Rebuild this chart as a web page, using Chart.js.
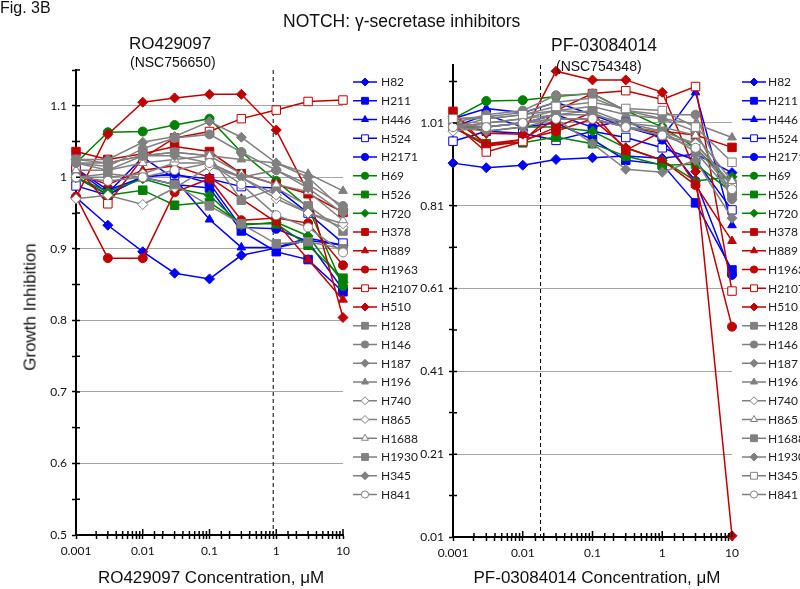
<!DOCTYPE html>
<html>
<head>
<meta charset="utf-8">
<script src="https://cdn.jsdelivr.net/npm/chart.js@4.4.0/dist/chart.umd.min.js"></script>
<style>
  body { margin: 0; background: #fff; width: 800px; height: 589px; position: relative; overflow: hidden;
         font-family: "Liberation Sans", Arial, sans-serif; color: #111; }
  canvas { position: absolute; top: 0; }
  .t { position: absolute; white-space: nowrap; line-height: 1; }
</style>
</head>
<body>
<canvas id="roChart" width="440" height="589" style="left:0"></canvas>
<canvas id="pfChart" width="400" height="589" style="left:400px"></canvas>

<div class="t" style="left:0;top:0;font-size:16px">Fig. 3B</div>
<div class="t" style="left:283px;top:13px;font-size:17.5px">NOTCH: γ-secretase inhibitors</div>
<div class="t" style="left:129px;top:35px;font-size:17px">RO429097</div>
<div class="t" style="left:130px;top:55px;font-size:14px">(NSC756650)</div>
<div class="t" style="left:551px;top:37px;font-size:17.5px">PF-03084014</div>
<div class="t" style="left:556px;top:59px;font-size:14px">(NSC754348)</div>
<div class="t" style="left:30px;top:307px;font-size:17px;transform:translate(-50%,-50%) rotate(-90deg)">Growth Inhibition</div>
<div class="t" style="left:211px;top:569px;font-size:17px;transform:translateX(-50%)">RO429097 Concentration, μM</div>
<div class="t" style="left:597px;top:569px;font-size:17px;transform:translateX(-50%)">PF-03084014 Concentration, μM</div>

<script>
// concentrations (uM) and cell lines
const conc = [0.001, 0.003, 0.01, 0.03, 0.1, 0.3, 1, 3, 10];
const cellLines = ['H82', 'H211', 'H446', 'H524', 'H2171', 'H69', 'H526', 'H720', 'H378', 'H889', 'H1963',
  'H2107', 'H510', 'H128', 'H146', 'H187', 'H196', 'H740', 'H865', 'H1688', 'H1930', 'H345', 'H841'];

// RO429097 growth inhibition, one row per cell line (same order)
const roValues = [
  [0.972, 0.933, 0.896, 0.866, 0.858, 0.891, 0.901, 0.912, 0.905], // H82
  [1.012, 0.982, 1.000, 0.990, 0.985, 0.925, 0.896, 0.885, 0.840], // H211
  [1.010, 0.978, 1.028, 0.998, 0.941, 0.902, 0.902, 0.915, 0.905], // H446
  [0.988, 0.975, 1.002, 1.003, 0.998, 0.987, 0.985, 0.950, 0.908], // H524
  [1.000, 0.976, 1.000, 1.005, 0.992, 0.930, 0.928, 0.910, 0.843], // H2171
  [1.020, 1.063, 1.064, 1.073, 1.082, 1.035, 0.995, 0.958, 0.848], // H69
  [1.000, 0.975, 0.982, 0.961, 0.965, 0.935, 0.935, 0.905, 0.859], // H526
  [1.000, 0.980, 0.998, 0.985, 0.975, 0.933, 0.937, 0.918, 0.853], // H720
  [1.036, 1.025, 1.033, 1.043, 1.036, 1.005, 0.990, 0.977, 0.951], // H378
  [1.005, 0.990, 1.010, 1.016, 1.000, 0.970, 0.937, 0.885, 0.829], // H889
  [0.973, 0.887, 0.887, 0.979, 0.998, 0.940, 0.943, 0.936, 0.877], // H1963
  [1.015, 0.963, 1.027, 1.055, 1.064, 1.082, 1.094, 1.106, 1.108], // H2107
  [0.972, 1.060, 1.105, 1.111, 1.116, 1.116, 1.066, 0.979, 0.804], // H510
  [1.025, 1.020, 1.030, 1.035, 1.030, 0.968, 0.985, 0.960, 0.925], // H128
  [1.020, 1.015, 1.040, 1.055, 1.060, 1.035, 1.010, 0.990, 0.960], // H146
  [1.025, 1.025, 1.049, 1.057, 1.078, 1.056, 1.020, 1.000, 0.955], // H187
  [1.020, 1.020, 1.030, 1.035, 1.030, 1.025, 1.020, 1.005, 0.981], // H196
  [0.970, 0.975, 0.962, 0.985, 1.015, 1.000, 0.970, 0.950, 0.930], // H740
  [1.000, 1.000, 1.005, 1.020, 1.020, 1.000, 0.975, 0.950, 0.935], // H865
  [1.010, 1.010, 1.020, 1.025, 1.030, 1.005, 0.990, 0.980, 0.940], // H1688
  [1.000, 1.005, 1.000, 0.990, 0.960, 0.935, 0.907, 0.910, 0.900], // H1930
  [1.020, 1.010, 1.030, 1.030, 1.020, 1.000, 1.010, 0.985, 0.950], // H345
  [1.000, 0.995, 1.000, 1.010, 1.020, 0.990, 0.947, 0.930, 0.895]  // H841
];

// PF-03084014 growth inhibition
const pfValues = [
  [0.913, 0.902, 0.908, 0.922, 0.926, 0.930, 0.925, 0.935, 0.890], // H82
  [1.000, 1.030, 1.000, 1.010, 0.970, 0.920, 0.910, 0.817, 0.655], // H211
  [1.020, 1.045, 1.035, 1.060, 1.030, 1.000, 0.975, 1.084, 0.763], // H446
  [0.966, 0.990, 0.985, 0.968, 0.990, 0.975, 0.950, 0.920, 0.800], // H524
  [1.000, 1.000, 1.010, 1.030, 1.000, 1.017, 0.970, 0.870, 0.643], // H2171
  [1.020, 1.063, 1.065, 1.074, 1.081, 1.040, 1.000, 0.950, 0.860], // H69
  [1.000, 0.960, 0.962, 0.976, 0.960, 0.930, 0.908, 0.910, 0.843], // H526
  [1.010, 0.990, 1.000, 1.000, 0.990, 0.950, 0.920, 0.870, 0.880], // H720
  [1.038, 0.954, 0.965, 1.000, 1.036, 0.944, 0.990, 0.981, 0.951], // H378
  [1.020, 0.960, 0.970, 1.020, 1.020, 0.950, 0.920, 0.860, 0.725], // H889
  [1.000, 0.955, 0.970, 0.990, 1.020, 1.000, 0.985, 0.860, 0.518], // H1963
  [1.010, 0.940, 0.965, 1.040, 1.081, 1.088, 1.067, 1.098, 0.604], // H2107
  [1.025, 0.985, 0.983, 1.135, 1.114, 1.114, 1.084, 0.893, 0.013], // H510
  [1.000, 1.020, 1.030, 1.040, 1.035, 1.000, 0.980, 0.960, 0.863], // H128
  [1.010, 1.030, 1.040, 1.077, 1.080, 1.040, 1.030, 1.030, 0.826], // H146
  [1.020, 1.025, 1.035, 1.060, 1.070, 1.040, 1.020, 0.990, 0.826], // H187
  [1.000, 1.010, 1.020, 1.040, 1.050, 1.030, 1.020, 1.008, 0.975], // H196
  [0.990, 1.000, 1.010, 1.020, 1.020, 1.000, 0.990, 0.960, 0.860], // H740
  [1.000, 1.010, 1.020, 1.030, 1.030, 1.010, 1.000, 0.980, 0.870], // H865
  [1.010, 1.000, 1.010, 1.030, 1.040, 1.010, 0.990, 0.940, 0.840], // H1688
  [1.000, 0.990, 1.000, 1.020, 0.960, 0.898, 0.891, 0.920, 0.780], // H1930
  [1.020, 1.020, 1.030, 1.050, 1.060, 1.045, 1.040, 1.000, 0.915], // H345
  [1.000, 1.000, 1.010, 1.020, 1.020, 1.000, 0.980, 0.950, 0.850]  // H841
];

// y ticks (all tick marks) and the ones that get a label + gridline
const roYTicks = [0.5, 0.55, 0.6, 0.65, 0.7, 0.75, 0.8, 0.85, 0.9, 0.95, 1, 1.05, 1.1, 1.15];
const roYLabels = [0.5, 0.6, 0.7, 0.8, 0.9, 1, 1.1];
const pfYTicks = [0.01, 0.11, 0.21, 0.31, 0.41, 0.51, 0.61, 0.71, 0.81, 0.91, 1.01, 1.11];
const pfYLabels = [0.01, 0.21, 0.41, 0.61, 0.81, 1.01];

// dashed reference lines (uM)
const roRefConc = 0.9;
const pfRefConc = 0.018;

const blue = '#0000FF', green = '#008000', red = '#C00000', gray = '#808080';
const lineColors = [blue, blue, blue, blue, blue, green, green, green, red, red, red, red, red,
  gray, gray, gray, gray, gray, gray, gray, gray, gray, gray];

const roMarkers = ['rectRot', 'rect', 'triangle', 'rect', 'circle', 'circle', 'rect', 'rectRot',
  'rect', 'triangle', 'circle', 'rect', 'rectRot',
  'rect', 'circle', 'rectRot', 'triangle', 'rectRot', 'rectRot', 'triangle', 'rect', 'rectRot', 'circle'];
const pfMarkers = ['rectRot', 'rect', 'triangle', 'rect', 'circle', 'circle', 'rect', 'rectRot',
  'rect', 'triangle', 'circle', 'rect', 'rectRot',
  'rect', 'circle', 'rectRot', 'triangle', 'rectRot', 'triangle', 'rect', 'rectRot', 'rect', 'circle'];
const roOpen = ['H524', 'H2107', 'H740', 'H865', 'H1688', 'H841'];
const pfOpen = ['H524', 'H2107', 'H740', 'H865', 'H345', 'H841'];

const markerSize = { circle: 4.5, rect: 6, triangle: 5, rectRot: 5 };
const tickFont = { family: 'Lato', size: 12 };

function makeDatasets(values, markers, open) {
  return cellLines.map((name, i) => ({
    label: name,
    data: conc.map((c, j) => ({ x: c, y: values[i][j] })),
    borderColor: lineColors[i],
    backgroundColor: lineColors[i],
    borderWidth: 1.5,
    pointStyle: markers[i],
    pointRadius: markerSize[markers[i]],
    pointBackgroundColor: open.includes(name) ? '#fff' : lineColors[i],
    pointBorderColor: lineColors[i],
    pointBorderWidth: 1,
    tension: 0,
    clip: false,
    order: cellLines.length - i  // later series on top, like the original
  }));
}

function drawMarker(ctx, style, x, y, r) {
  ctx.beginPath();
  if (style === 'circle') {
    ctx.arc(x, y, r, 0, Math.PI * 2);
  } else if (style === 'rect') {
    const s = r * Math.SQRT1_2;
    ctx.rect(x - s, y - s, 2 * s, 2 * s);
  } else if (style === 'rectRot') {
    ctx.moveTo(x, y - r); ctx.lineTo(x + r, y); ctx.lineTo(x, y + r); ctx.lineTo(x - r, y); ctx.closePath();
  } else {
    ctx.moveTo(x, y - r);
    ctx.lineTo(x + r * 0.866, y + r * 0.5);
    ctx.lineTo(x - r * 0.866, y + r * 0.5);
    ctx.closePath();
  }
  ctx.fill();
  ctx.stroke();
}

// dashed line, crossing tick marks and the line+marker legend
function extrasPlugin(refConc, legendX, textX) {
  return {
    id: 'extras',
    beforeDatasetsDraw(chart) {
      const { ctx, chartArea } = chart;
      const px = chart.scales.x.getPixelForValue(refConc);
      ctx.save();
      ctx.strokeStyle = '#000';
      ctx.lineWidth = 1;
      ctx.setLineDash([4, 3]);
      ctx.beginPath();
      ctx.moveTo(px, chartArea.top);
      ctx.lineTo(px, chartArea.bottom);
      ctx.stroke();
      ctx.restore();
    },
    afterDraw(chart) {
      const { ctx, chartArea } = chart;
      const xs = chart.scales.x, ys = chart.scales.y;
      ctx.save();
      ctx.strokeStyle = '#000';
      ctx.lineWidth = 1.5;
      ctx.beginPath();
      xs.ticks.forEach(t => {
        const p = xs.getPixelForValue(t.value);
        const l = Math.log10(t.value);
        const len = Math.abs(l - Math.round(l)) < 1e-6 ? 6 : 4;
        ctx.moveTo(p, chartArea.bottom - len);
        ctx.lineTo(p, chartArea.bottom);
      });
      ys.ticks.forEach(t => {
        const p = ys.getPixelForValue(t.value);
        ctx.moveTo(chartArea.left, p);
        ctx.lineTo(chartArea.left + 4, p);
      });
      ctx.stroke();

      // legend
      ctx.font = '12px Lato';
      ctx.textBaseline = 'middle';
      chart.data.datasets.forEach((ds, i) => {
        const y = 82 + i * 18.75;
        ctx.strokeStyle = ds.borderColor;
        ctx.lineWidth = 1.5;
        ctx.beginPath();
        ctx.moveTo(legendX, y);
        ctx.lineTo(legendX + 24, y);
        ctx.stroke();
        ctx.fillStyle = ds.pointBackgroundColor;
        ctx.lineWidth = 1;
        drawMarker(ctx, ds.pointStyle, legendX + 12, y, ds.pointRadius * 0.8);
        ctx.fillStyle = '#222';
        ctx.fillText(ds.label, textX, y + 0.5);
      });
      ctx.restore();
    }
  };
}

function makeOptions(yMin, yMax, yTicks, yLabels, yWidth, xHeight, padding) {
  const isLabel = v => yLabels.some(l => Math.abs(l - v) < 1e-6);
  return {
    responsive: false,
    animation: false,
    layout: { padding: padding, autoPadding: false },
    plugins: { legend: { display: false }, tooltip: { enabled: false } },
    scales: {
      x: {
        type: 'logarithmic',
        min: 0.001,
        max: 10,
        border: { color: '#000', width: 2 },
        grid: { drawOnChartArea: false, color: '#000', tickColor: '#000', tickLength: 4, tickWidth: 1.5 },
        ticks: {
          autoSkip: false, maxRotation: 0, padding: 5, font: tickFont, color: '#111',
          callback: v => {
            const l = Math.log10(v);
            return Math.abs(l - Math.round(l)) < 1e-6 ? String(Number(v.toPrecision(3))) : '';
          }
        },
        afterFit: s => { s.height = xHeight; }
      },
      y: {
        type: 'linear',
        min: yMin,
        max: yMax,
        border: { color: '#000', width: 2 },
        grid: {
          color: c => (c.tick && isLabel(c.tick.value)) ? '#A6A6A6' : 'rgba(0,0,0,0)',
          lineWidth: 1, tickColor: '#000', tickLength: 4, tickWidth: 1.5
        },
        afterBuildTicks: s => { s.ticks = yTicks.map(v => ({ value: v })); },
        ticks: {
          autoSkip: false, padding: 5, font: tickFont, color: '#111',
          callback: v => isLabel(v) ? String(v) : ''
        },
        afterFit: s => { s.width = yWidth; }
      }
    }
  };
}

new Chart(document.getElementById('roChart'), {
  type: 'line',
  data: { datasets: makeDatasets(roValues, roMarkers, roOpen) },
  options: makeOptions(0.5, 1.15, roYTicks, roYLabels, 76, 54, { left: 0, top: 70, right: 97, bottom: 0 }),
  plugins: [extrasPlugin(roRefConc, 353, 381)]
});

new Chart(document.getElementById('pfChart'), {
  type: 'line',
  data: { datasets: makeDatasets(pfValues, pfMarkers, pfOpen) },
  options: makeOptions(0.01, 1.15, pfYTicks, pfYLabels, 53, 52, { left: 0, top: 65, right: 68, bottom: 0 }),
  plugins: [extrasPlugin(pfRefConc, 342, 368)]
});
</script>
</body>
</html>
